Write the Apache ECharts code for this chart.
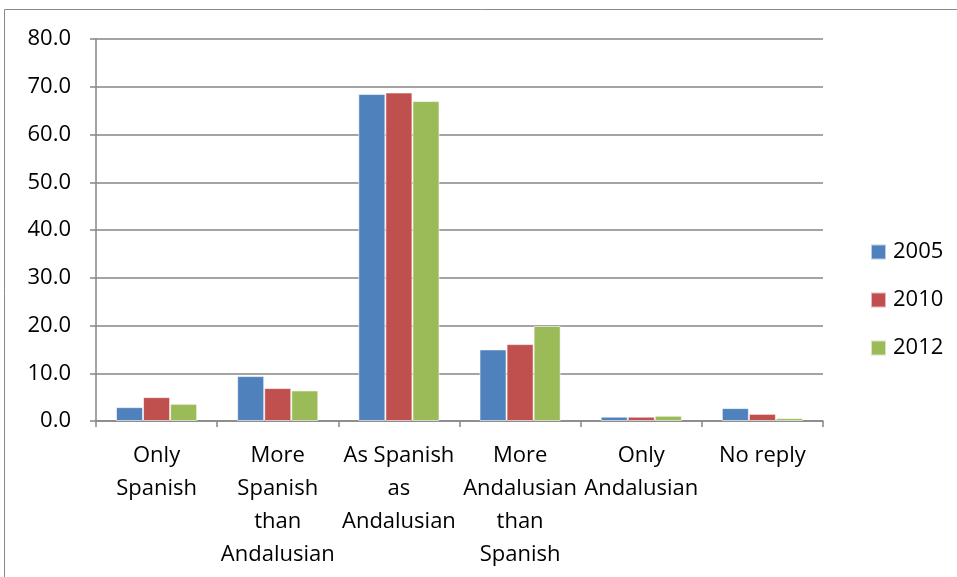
<!DOCTYPE html>
<html>
<head>
<meta charset="utf-8">
<script src="https://cdn.jsdelivr.net/npm/echarts@6/dist/echarts.min.js"></script>
<style>
  html, body { margin: 0; padding: 0; background: #fff; }
  #chart { width: 957px; height: 577px; }
</style>
</head>
<body>
<div id="chart"></div>
<script>
// Identity categories (line breaks as they wrap under the axis)
const categories = [
  'Only\nSpanish',
  'More\nSpanish\nthan\nAndalusian',
  'As Spanish\nas\nAndalusian',
  'More\nAndalusian\nthan\nSpanish',
  'Only\nAndalusian',
  'No reply'
];
const years = ['2005', '2010', '2012'];
const values2005 = [2.9, 9.4, 68.5, 15.0, 0.9, 2.7];
const values2010 = [5.0, 6.9, 68.8, 16.1, 0.9, 1.5];
const values2012 = [3.6, 6.4, 67.0, 19.9, 1.1, 0.6];
const colors = ['#4F81BD', '#C0504D', '#9BBB59'];

const FONT = '"Open Sans", "Noto Sans", sans-serif';
const AXIS_GRAY = '#868686';

const chart = echarts.init(document.getElementById('chart'), null, { renderer: 'canvas' });

const seriesData = [values2005, values2010, values2012];

chart.setOption({
  animation: false,
  backgroundColor: '#fff',
  textStyle: { fontFamily: FONT },
  graphic: [{
    type: 'rect',
    shape: { x: 4.5, y: 9.5, width: 1200, height: 1200 },
    style: { fill: 'none', stroke: '#8a8a8a', lineWidth: 1 },
    silent: true
  }],
  grid: { left: 96, right: 134, top: 39, bottom: 156 },
  legend: {
    orient: 'vertical',
    left: 865,
    top: 236,
    itemWidth: 15,
    itemHeight: 15,
    itemGap: 26,
    icon: 'rect',
    textStyle: { fontFamily: FONT, fontSize: 22, color: '#000', padding: [0, 0, 0, 2] },
    data: years
  },
  xAxis: {
    type: 'category',
    data: categories,
    axisLine: { lineStyle: { color: AXIS_GRAY, width: 1.5 } },
    axisTick: { show: true, length: 6, lineStyle: { color: AXIS_GRAY, width: 1.5 } },
    axisLabel: {
      interval: 0,
      margin: 18,
      color: '#000',
      fontFamily: FONT,
      fontSize: 22,
      lineHeight: 33,
      align: 'center'
    }
  },
  yAxis: {
    type: 'value',
    min: 0,
    max: 80,
    interval: 10,
    axisLine: { show: true, lineStyle: { color: AXIS_GRAY, width: 1.5 } },
    axisTick: { show: true, length: 6, lineStyle: { color: AXIS_GRAY, width: 1.5 } },
    splitLine: { lineStyle: { color: AXIS_GRAY, width: 1.5 } },
    axisLabel: {
      margin: 25,
      color: '#000',
      fontFamily: FONT,
      fontSize: 22,
      formatter: v => v.toFixed(1)
    }
  },
  series: years.map((y, i) => ({
    name: y,
    type: 'bar',
    data: seriesData[i],
    barGap: '0%',
    barCategoryGap: '33%',
    itemStyle: { color: colors[i], borderColor: 'rgba(255,255,255,0.6)', borderWidth: 1 }
  }))
});
</script>
</body>
</html>
